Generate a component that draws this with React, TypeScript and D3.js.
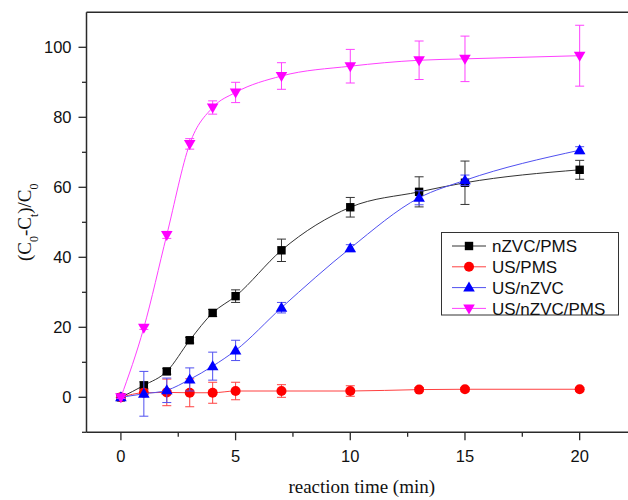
import React from 'react'
import * as d3 from 'd3'

// reaction time (min)
const time = [0, 1, 2, 3, 4, 5, 7, 10, 13, 15, 20]

const nzvcPms = [0, 3.4, 7.4, 16.3, 24.1, 28.9, 42.0, 54.3, 58.7, 61.3, 65.0]
const nzvcPmsErr = [0.5, 1, 0.8, 0.8, 1, 1.8, 3.2, 2.8, 4.3, 6.2, 2.7]
const usPms = [0, 1.3, 1.4, 1.3, 1.3, 1.8, 1.8, 1.8, 2.2, 2.3, 2.3]
const usPmsErr = [0.3, 1.0, 3.8, 4.0, 3.0, 2.5, 1.8, 1.5, 0.6, 0.5, 0.5]
const usNzvc = [0, 1.0, 2.0, 5.1, 8.9, 13.4, 25.6, 42.6, 57.0, 62.0, 70.6]
const usNzvcErr = [0.3, 6.4, 3.5, 3.3, 4, 2.9, 1.5, 1, 2, 1.5, 1]
const usNzvcPms = [0, 19.9, 46.4, 72.4, 82.8, 87.1, 91.8, 94.6, 96.3, 96.7, 97.6]
const usNzvcPmsErr = [0.3, 0.5, 1, 1.5, 1.9, 2.9, 3.8, 4.8, 5.5, 6.5, 8.7]

const seriesNames = ['nZVC/PMS', 'US/PMS', 'US/nZVC', 'US/nZVC/PMS']
const xTicks = [0, 5, 10, 15, 20]
const xMinor = [2.5, 7.5, 12.5, 17.5, 22.5]
const yTicks = [0, 20, 40, 60, 80, 100]
const yMinor = [-10, 10, 30, 50, 70, 90]

const series = [
  { name: seriesNames[0], y: nzvcPms, err: nzvcPmsErr, color: '#000000', line: '#333333', shape: 'square' },
  { name: seriesNames[1], y: usPms, err: usPmsErr, color: '#ff0000', line: '#ff4040', shape: 'circle' },
  { name: seriesNames[2], y: usNzvc, err: usNzvcErr, color: '#0000ff', line: '#5050f0', shape: 'up' },
  { name: seriesNames[3], y: usNzvcPms, err: usNzvcPmsErr, color: '#ff00ff', line: '#ff40ff', shape: 'down' },
]

const sans = '"Liberation Sans", Arial, sans-serif'
const serif = '"Liberation Serif", "Times New Roman", serif'

const Marker = ({ shape, x, y, color }: { shape: string; x: number; y: number; color: string }) => {
  if (shape === 'square') return <rect x={x - 4.2} y={y - 4.2} width={8.4} height={8.4} fill={color} />
  if (shape === 'circle') return <circle cx={x} cy={y} r={5} fill={color} />
  if (shape === 'up') return <path d={`M${x},${y - 6} L${x + 5.8},${y + 4} L${x - 5.8},${y + 4} Z`} fill={color} />
  return <path d={`M${x},${y + 6} L${x + 5.8},${y - 4} L${x - 5.8},${y - 4} Z`} fill={color} />
}

const App = () => {
  const W = 628
  const H = 500
  const x = d3.scaleLinear().domain([-1.5, 22.5]).range([86.5, 637])
  const y = d3.scaleLinear().domain([-10, 110]).range([432.3, 12.3])
  const [x0, x1] = x.range()
  const [yb, yt] = y.range()

  const line = d3.line<number>()
    .x((d, i) => x(time[i]))
    .y(d => y(d))
    .curve(d3.curveMonotoneX)

  const axisColor = '#2a2a2a'

  return (
    <div style={{ position: 'absolute', left: 0, top: 0 }}>
      <svg width={W} height={H} style={{ display: 'block', background: '#ffffff' }}>
        {/* frame */}
        <line x1={x0} x2={x1} y1={yt} y2={yt} stroke={axisColor} strokeWidth={1.5} />
        <line x1={x0} x2={x1} y1={yb} y2={yb} stroke={axisColor} strokeWidth={1.5} />
        <line x1={x0} x2={x0} y1={yt} y2={yb} stroke={axisColor} strokeWidth={1.5} />

        {/* y ticks */}
        {yTicks.map(t => (
          <g key={'y' + t}>
            <line x1={x0 - 8} x2={x0} y1={y(t)} y2={y(t)} stroke={axisColor} strokeWidth={1.3} />
            <text x={x0 - 15} y={y(t)} dy="0.36em" textAnchor="end" fontFamily={sans} fontSize={16.5} fill="#111">{t}</text>
          </g>
        ))}
        {yMinor.map(t => (
          <line key={'ym' + t} x1={x0 - 4.5} x2={x0} y1={y(t)} y2={y(t)} stroke={axisColor} strokeWidth={1.3} />
        ))}

        {/* x ticks */}
        {xTicks.map(t => (
          <g key={'x' + t}>
            <line x1={x(t)} x2={x(t)} y1={yb} y2={yb + 8} stroke={axisColor} strokeWidth={1.3} />
            <text x={x(t)} y={yb + 30} textAnchor="middle" fontFamily={sans} fontSize={16.5} fill="#111">{t}</text>
          </g>
        ))}
        {xMinor.map(t => (
          <line key={'xm' + t} x1={x(t)} x2={x(t)} y1={yb} y2={yb + 4.5} stroke={axisColor} strokeWidth={1.3} />
        ))}

        {/* axis titles */}
        <text x={(x0 + x1) / 2} y={493} textAnchor="middle" fontFamily={serif} fontSize={19} fill="#111">reaction time (min)</text>
        <text transform={`translate(31,${(yt + yb) / 2}) rotate(-90)`} textAnchor="middle" fontFamily={serif} fontSize={19} fill="#111">
          (C<tspan baselineShift="sub" fontSize={12}>0</tspan>-C<tspan baselineShift="sub" fontSize={12}>t</tspan>)/C<tspan baselineShift="sub" fontSize={12}>0</tspan>
        </text>

        {/* series */}
        {series.map(s => (
          <g key={s.name}>
            <path d={line(s.y) || ''} fill="none" stroke={s.line} strokeWidth={1} />
            {s.y.map((v, i) => {
              const cx = x(time[i])
              const top = y(v + s.err[i])
              const bot = y(v - s.err[i])
              return (
                <g key={i} stroke={s.line} strokeWidth={1}>
                  <line x1={cx} x2={cx} y1={top} y2={bot} />
                  <line x1={cx - 4.5} x2={cx + 4.5} y1={top} y2={top} />
                  <line x1={cx - 4.5} x2={cx + 4.5} y1={bot} y2={bot} />
                </g>
              )
            })}
            {s.y.map((v, i) => (
              <Marker key={'m' + i} shape={s.shape} x={x(time[i])} y={y(v)} color={s.color} />
            ))}
          </g>
        ))}

        {/* legend */}
        <g>
          <rect x={441.5} y={232.5} width={177} height={82.5} fill="#ffffff" stroke="#333" strokeWidth={1} />
          {series.map((s, i) => {
            const ry = 246 + i * 20.8
            return (
              <g key={'l' + s.name}>
                <line x1={452} x2={486} y1={ry} y2={ry} stroke={s.line} strokeWidth={1} />
                <Marker shape={s.shape} x={469} y={ry} color={s.color} />
                <text x={492} y={ry} dy="0.36em" fontFamily={sans} fontSize={17} fill="#111">{s.name}</text>
              </g>
            )
          })}
        </g>
      </svg>
    </div>
  )
}

export default App
